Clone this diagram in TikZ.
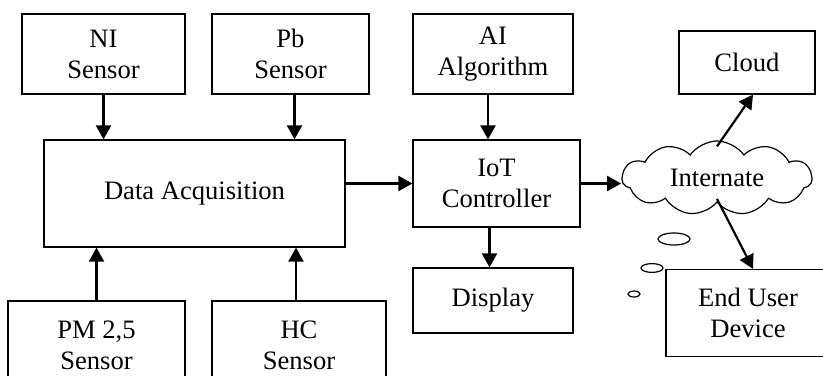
\documentclass[tikz,border=0pt]{standalone}
\usepackage{fontspec}
\setmainfont{Liberation Serif}
\usetikzlibrary{arrows.meta,positioning,shapes.symbols}

\begin{document}
\begin{tikzpicture}[x=0.5pt,y=-0.5pt,
  every node/.style={font=\fontsize{13.3pt}{15.5pt}\selectfont},
  blk/.style={draw,line width=.6pt,align=center,inner sep=0pt},
  arr/.style={line width=1.1pt,-{Triangle[length=7pt,width=7.5pt]}}]
\useasboundingbox (0,0) rectangle (823,375);
% sensor blocks
\node[blk,minimum width=81.5pt,minimum height=40pt] (ni) at (103.5,54) {NI\\Sensor};
\node[blk,minimum width=78.5pt,minimum height=40pt] (pb) at (290.5,54) {Pb\\Sensor};
\node[blk,minimum width=88.5pt,minimum height=44pt] (pm) at (96.5,345) {PM 2,5\\Sensor};
\node[blk,minimum width=87pt,minimum height=44pt] (hc) at (299,345) {HC\\Sensor};
\node[blk,minimum width=150.5pt,minimum height=53.5pt] (daq) at (194.5,193.5) {Data Acquisition};
% controller side
\node[blk,minimum width=80pt,minimum height=40pt] (ai) at (493,54) {AI\\Algorithm};
\node[blk,minimum width=83.5pt,minimum height=43.5pt] (iot) at (496.5,183.5) {IoT\\Controller};
\node[blk,minimum width=80pt,minimum height=32.5pt] (disp) at (493,300.5) {Display};
% network side
\node[draw,line width=.6pt,cloud,cloud puffs=11,cloud puff arc=110,aspect=2.6,
  minimum width=95pt,minimum height=37pt,inner sep=0pt] (net) at (717,178) {Internate};
\node[blk,minimum width=68pt,minimum height=31.5pt] (cloudbox) at (747,62.5) {Cloud};
\node[blk,minimum width=82pt,minimum height=43.5pt] (eud) at (748,313) {End User\\Device};
\draw[line width=.6pt] (674,239) ellipse (8pt and 3pt);
\draw[line width=.6pt] (652,268) ellipse (5.5pt and 2.2pt);
\draw[line width=.6pt] (634,294) ellipse (3pt and 1.5pt);
% connectors
\draw[arr] (ni.south) -- (ni.south |- daq.north);
\draw[arr] ([xshift=2pt]pb.south) -- ([xshift=2pt]pb.south |- daq.north);
\draw[arr] (pm.north) -- (pm.north |- daq.south);
\draw[arr] ([xshift=-1.5pt]hc.north) -- ([xshift=-1.5pt]hc.north |- daq.south);
\draw[arr] (daq.east |- iot.west) -- (iot.west);
\draw[arr] ([xshift=-2.5pt]ai.south) -- ([xshift=-2.5pt]ai.south |- iot.north);
\draw[arr] ([xshift=-3.5pt]iot.south) -- ([xshift=-3.5pt]iot.south |- disp.north);
\draw[arr] (iot.east) -- (iot.east -| net.west);
\draw[arr] ([yshift=-3pt]net.north) -- ([xshift=3pt]cloudbox.south);
\draw[arr] ([yshift=2pt]net.south) -- ([xshift=2.5pt]eud.north);
\end{tikzpicture}
\end{document}
